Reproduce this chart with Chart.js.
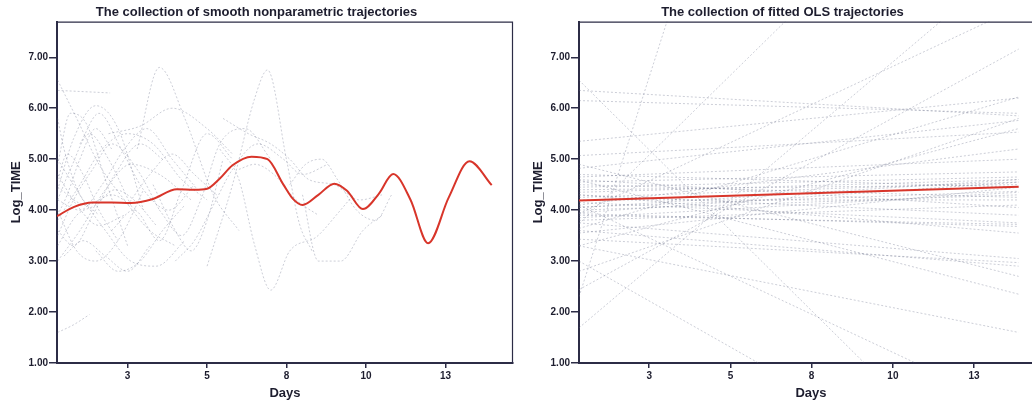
<!DOCTYPE html>
<html><head><meta charset="utf-8">
<script src="https://cdn.jsdelivr.net/npm/chart.js@4.4.1/dist/chart.umd.min.js"></script>
<style>
html,body{margin:0;padding:0;background:#fff;}
#wrap{position:relative;width:1032px;height:402px;overflow:hidden;background:#fff;}
#c1{position:absolute;left:0;top:0;}
#c2{position:absolute;left:522px;top:0;}
</style></head><body>
<div id="wrap"><canvas id="c1" width="516" height="402"></canvas><canvas id="c2" width="524" height="402"></canvas></div>
<script>
// ---- tick definitions ----
const xTickValues = [2.5, 5, 7.5, 10, 12.5];
const xTickLabels = ["3", "5", "8", "10", "13"];
const yTickValues = [1, 2, 3, 4, 5, 6, 7];
const yTickLabels = ["1.00", "2.00", "3.00", "4.00", "5.00", "6.00", "7.00"];

// ---- left panel: average smooth trajectory (red) ----
const redDays = [0.28, 0.8, 1.4, 2.0, 2.6, 3.3, 4.05, 4.6, 5.0, 5.4, 5.8, 6.4, 6.9, 7.4, 7.7, 8.0, 8.5, 9.0, 9.4, 9.9, 10.4, 10.85, 11.4, 11.95, 12.6, 13.25, 13.95];
const redValues = [3.88, 4.06, 4.15, 4.15, 4.14, 4.22, 4.41, 4.40, 4.42, 4.62, 4.88, 5.05, 5.00, 4.50, 4.22, 4.10, 4.30, 4.52, 4.38, 4.02, 4.32, 4.71, 4.20, 3.35, 4.25, 4.96, 4.49];

// ---- left panel: individual smooth trajectories (gray) ----
const smoothDays = [
  [0.3, 1.3, 1.95],
  [0.3, 0.8, 1.5, 2.2, 3.0],
  [0.3, 0.9, 1.6, 2.4, 3.2, 4.0],
  [1.9, 2.9, 3.9, 5.0, 5.8],
  [2.8, 3.5, 4.3, 5.2, 6.0],
  [5.0, 5.8, 6.5, 6.9, 7.5, 7.9, 8.3],
  [5.4, 6.0, 6.5, 7.0, 7.6, 8.45, 9.1, 9.6],
  [0.3, 0.8, 1.3],
  [0.3, 1.0, 1.8, 2.6, 3.5, 4.5],
  [0.3, 0.7, 1.2, 1.8, 2.5],
  [0.3, 1.0, 1.7, 2.5, 3.3, 4.2, 5.0],
  [0.3, 0.9, 1.5, 2.3, 3.0],
  [0.3, 1.0, 1.8, 2.6, 3.4, 4.3],
  [0.3, 0.8, 1.4, 2.0, 2.8, 3.5],
  [3.3, 4.0, 4.5, 5.0, 5.5],
  [4.0, 4.6, 5.2, 5.8, 6.6, 7.4, 8.0, 8.8],
  [5.5, 6.3, 7.0, 7.6, 8.2, 9.0, 9.8, 10.5],
  [7.6, 8.1, 8.6, 9.1, 9.7, 10.3, 10.8],
  [0.3, 0.6, 1.1, 1.6, 2.2],
  [0.3, 0.9, 1.5, 2.1, 2.7, 3.4],
  [1.5, 2.2, 2.9, 3.6, 4.3],
  [0.3, 1.0, 1.7, 2.4, 3.1, 3.9, 4.7],
  [2.0, 2.7, 3.5, 4.2, 5.0, 5.8],
  [0.3, 0.5, 1.0, 1.6],
  [8.0, 8.5, 9.2, 9.9, 10.5],
  [6.0, 6.5, 7.1, 7.8, 8.5],
  [0.3, 0.7, 1.3, 1.9, 2.6],
  [0.3, 0.8, 1.4, 2.1, 2.9, 3.6],
  [0.3, 0.9, 1.6, 2.4],
  [0.5, 1.1, 1.8, 2.5, 3.2],
  [1.0, 1.6, 2.3, 3.0, 3.8, 4.6],
  [0.3, 0.6, 1.0, 1.5, 2.0],
  [2.5, 3.2, 3.9, 4.6, 5.3],
  [3.5, 4.2, 4.8, 5.4, 6.2, 7.0],
  [0.3, 1.2, 2.0, 2.8]
];
const smoothValues = [
  [6.35, 6.32, 6.3],
  [4.4, 5.4, 6.05, 5.6, 4.0],
  [6.55, 5.8, 4.9, 4.2, 3.6, 3.3],
  [5.5, 5.65, 6.0, 5.6, 5.1],
  [5.2, 6.8, 5.8, 4.3, 3.6],
  [2.9, 4.5, 6.2, 6.75, 4.98, 3.74, 3.2],
  [5.2, 4.6, 3.3, 2.43, 3.2, 3.48, 3.93, 4.3],
  [1.6, 1.75, 1.95],
  [3.0, 3.6, 4.4, 4.9, 4.7, 4.2],
  [4.9, 5.9, 5.7, 4.6, 3.3],
  [3.8, 4.5, 5.2, 5.5, 5.3, 4.6, 4.2],
  [4.0, 3.2, 3.0, 3.5, 4.4],
  [5.0, 4.3, 3.6, 3.0, 2.9, 3.4],
  [3.5, 4.2, 4.8, 5.3, 4.8, 4.0],
  [4.5, 3.6, 3.2, 3.8, 5.0],
  [3.0, 3.4, 4.1, 4.8, 5.3, 5.0, 4.7, 4.9],
  [5.8, 5.5, 5.3, 5.0, 4.6, 4.5, 4.2, 4.3],
  [4.5, 4.9, 5.0, 4.6, 4.0, 3.8, 4.3],
  [4.6, 5.1, 4.7, 4.0, 3.4],
  [3.3, 3.9, 4.1, 4.4, 4.2, 3.7],
  [3.2, 2.8, 3.0, 3.6, 4.1],
  [4.2, 4.0, 4.5, 5.2, 5.6, 5.0, 4.4],
  [3.6, 4.0, 3.4, 4.4, 5.5, 5.0],
  [5.8, 5.2, 4.3, 3.9],
  [4.3, 3.0, 3.0, 3.6, 3.9],
  [4.8, 4.9, 4.7, 4.2, 3.9],
  [4.2, 4.8, 5.5, 5.0, 4.1],
  [3.6, 3.3, 3.9, 4.7, 5.3, 5.0],
  [4.7, 4.1, 3.7, 3.9],
  [3.1, 3.4, 3.1, 2.8, 3.3],
  [5.3, 5.9, 5.2, 4.4, 4.0, 4.5],
  [3.9, 4.3, 5.0, 5.6, 5.2],
  [4.1, 4.7, 5.1, 4.7, 4.3],
  [4.0, 3.5, 4.2, 5.3, 5.6, 5.0],
  [4.45, 4.1, 4.3, 4.0]
];

// ---- right panel: fitted OLS trajectories ----
const olsDays = [0.34, 13.87];
const olsMeanValues = [4.19, 4.46];
const olsStartValues = [3.73, 1.69, 2.44, 3.93, 2.3, 6.35, 6.55, 5.07, 4.82, 5.35, 4.65, 4.45, 4.25, 4.06, 4.2, 3.93, 3.64, 3.55, 3.3, 4.59, 3.43, 3.9, 4.9, 4.1, 3.0, 3.75, 3.3, 4.35, 4.55, 4.0, 3.8, 4.3, 4.7, 4.1, 3.6, 6.15, 2.8, 4.6, 4.4, 3.95, 4.15, 4.5, 3.85, 4.05, 4.3];
const olsEndValues   = [12.2, 9.0, 7.16, 7.98, 29.3, 5.85, -2.0, 5.53, 5.76, 6.2, 5.0, 4.65, 4.55, 4.37, 4.2, 3.68, 6.22, 4.45, 5.6, 2.35, 2.97, 3.72, 2.7, 0.05, -1.9, 3.05, 1.6, 4.6, 4.75, 4.3, 4.1, 3.9, 4.45, 5.2, 2.9, 5.9, 5.8, 4.05, 4.5, 4.55, 3.75, 4.25, 4.35, 4.6, 3.55];

// ---- styling ----
const FONT = "'Liberation Sans', Arial, sans-serif";
const INK = '#1d1d2e';
const AXIS = '#2c2c46';
const GRAY = 'rgba(100,105,135,0.33)';
const RED = '#d8352a';

const frame = {
  id: 'frame',
  afterDraw(chart) {
    const a = chart.chartArea, ctx = chart.ctx;
    ctx.save();
    ctx.strokeStyle = AXIS;
    ctx.lineWidth = 1.2;
    ctx.beginPath();
    ctx.moveTo(a.left, a.top + 0.5);
    ctx.lineTo(a.right - 0.5, a.top + 0.5);
    ctx.lineTo(a.right - 0.5, a.bottom);
    ctx.stroke();
    ctx.restore();
  }
};

function toPoints(xs, ys) { return xs.map((x, i) => ({ x: x, y: ys[i] })); }

function grayDataset(points) {
  return {
    data: points, borderColor: GRAY, borderWidth: 1, borderDash: [2, 2],
    pointRadius: 0, fill: false, cubicInterpolationMode: 'monotone', order: 2
  };
}

function makeOptions(titleText, xmin, xmax) {
  return {
    responsive: false, animation: false, devicePixelRatio: 1,
    layout: { padding: { left: 0, right: 3, top: 0, bottom: 0 } },
    plugins: {
      legend: { display: false }, tooltip: { enabled: false },
      title: { display: true, text: titleText, color: INK,
        font: { family: FONT, size: 13, weight: 'bold' }, padding: { top: 5, bottom: 1 } }
    },
    scales: {
      x: {
        type: 'linear', min: xmin, max: xmax,
        afterBuildTicks: s => { s.ticks = xTickValues.map(v => ({ value: v })); },
        afterFit: s => { s.height = 39; },
        ticks: { callback: (v, i) => xTickLabels[i], color: INK, padding: 2,
          font: { family: FONT, size: 10, weight: 'bold' }, maxRotation: 0, autoSkip: false },
        grid: { drawOnChartArea: false, drawTicks: true, tickLength: 5, color: AXIS, lineWidth: 1.5 },
        border: { display: true, color: AXIS, width: 2 },
        title: { display: true, text: 'Days', color: INK,
          font: { family: FONT, size: 13, weight: 'bold' }, padding: { top: 0, bottom: 1 } }
      },
      y: {
        type: 'linear', min: 1, max: 7.7,
        afterBuildTicks: s => { s.ticks = yTickValues.map(v => ({ value: v })); },
        afterFit: s => { s.width = 57; },
        ticks: { callback: (v, i) => yTickLabels[i], color: INK, padding: 1,
          font: { family: FONT, size: 10, weight: 'bold' }, autoSkip: false },
        grid: { drawOnChartArea: false, drawTicks: true, tickLength: 8, color: AXIS, lineWidth: 1.5 },
        border: { display: true, color: AXIS, width: 2 },
        title: { display: true, text: 'Log_TIME', color: INK,
          font: { family: FONT, size: 13, weight: 'bold' }, padding: { top: 9, bottom: 0 } }
      }
    }
  };
}

// ---- left chart ----
const leftSets = smoothDays.map((d, i) => grayDataset(toPoints(d, smoothValues[i])));
leftSets.unshift({
  data: toPoints(redDays, redValues), borderColor: RED, borderWidth: 2,
  pointRadius: 0, fill: false, cubicInterpolationMode: 'monotone', order: 0
});
new Chart(document.getElementById('c1'), {
  type: 'line', data: { datasets: leftSets },
  options: makeOptions('The collection of smooth nonparametric trajectories', 0.28, 14.62),
  plugins: [frame]
});

// ---- right chart ----
const rightSets = olsStartValues.map((s, i) => {
  const ds = grayDataset(toPoints(olsDays, [s, olsEndValues[i]]));
  ds.cubicInterpolationMode = 'default'; ds.tension = 0;
  return ds;
});
rightSets.unshift({
  data: toPoints(olsDays, olsMeanValues), borderColor: RED, borderWidth: 2,
  pointRadius: 0, fill: false, tension: 0, order: 0
});
new Chart(document.getElementById('c2'), {
  type: 'line', data: { datasets: rightSets },
  options: makeOptions('The collection of fitted OLS trajectories', 0.34, 14.62),
  plugins: [frame]
});
</script>
</body></html>
